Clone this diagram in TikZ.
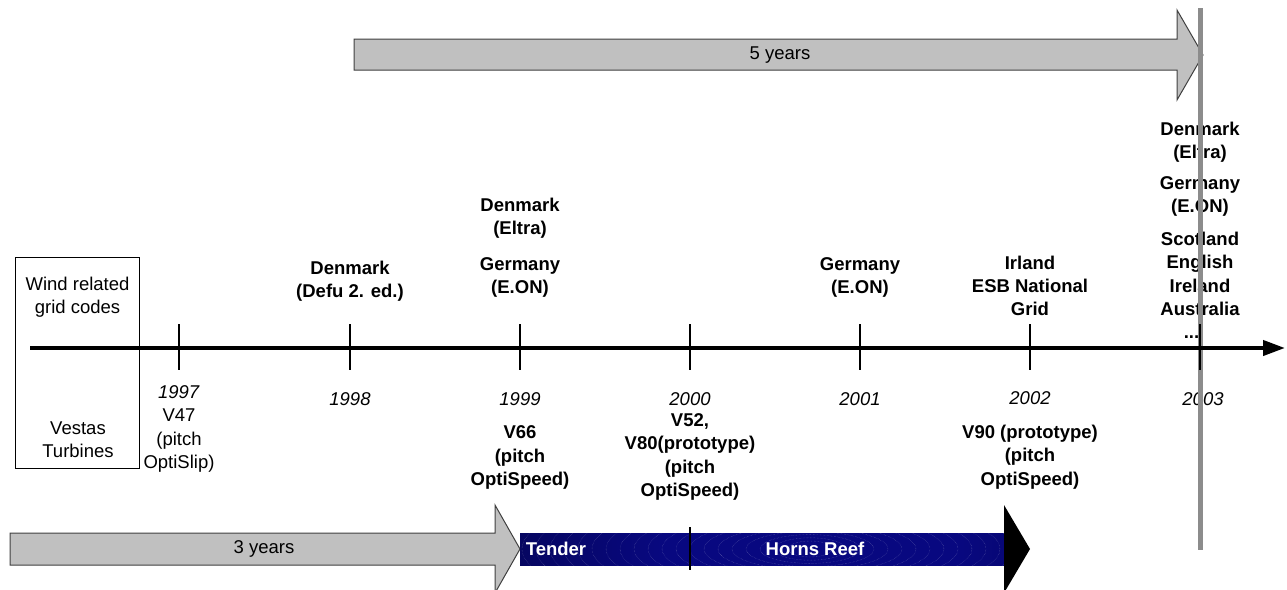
\documentclass[tikz,border=0pt]{standalone}
\usepackage{fontspec}
\setmainfont{Liberation Sans}
\usetikzlibrary{arrows.meta}
\definecolor{arrowgray}{RGB}{192,192,192}
\definecolor{edgegray}{RGB}{64,64,64}
\definecolor{lineGray}{RGB}{140,140,140}
\definecolor{navyc}{RGB}{8,8,128}
\definecolor{navyd}{RGB}{4,4,70}
\pgfdeclarehorizontalshading{hornsshade}{100bp}{color(0bp)=(black); color(12bp)=(navyd); color(40bp)=(navyc); color(70bp)=(navyc); color(100bp)=(navyd)}
\tikzset{
  lbl/.style={inner sep=0pt, align=center, font=\fontsize{18.5}{23.3}\selectfont\bfseries},
  reg/.style={inner sep=0pt, align=center, font=\fontsize{18.5}{23.3}\selectfont},
  yr/.style={inner sep=0pt, align=center, font=\fontsize{18.5}{23.3}\selectfont\itshape},
  tickline/.style={line width=2pt, black},
  grayarrow/.style={fill=arrowgray, draw=edgegray, line width=1pt},
}
\begin{document}
\begin{tikzpicture}[x=1pt,y=-1pt]
\useasboundingbox (0,0) rectangle (1287,589);

% ---- top 5 years arrow
\path[grayarrow] (354,39) -- (1177,39) -- (1177,10) -- (1203,55) -- (1177,100) -- (1177,70) -- (354,70) -- cycle;
\node[reg] (fiveyears) at (780,55) {5 years};

% ---- bottom 3 years arrow
\path[grayarrow] (10,533) -- (495,533) -- (495,505) -- (520,549) -- (495,593) -- (495,565) -- (10,565) -- cycle;
\node[reg] (threeyears) at (264,549) {3 years};

% ---- dark Tender / Horns Reef arrow
\shade[shading=hornsshade] (520,533) rectangle (1004,565);
\begin{scope}
\clip (520,533) rectangle (1004,565);
\foreach \k in {0,...,22}{
  \draw[white, opacity=0.35, line width=0.4pt, densely dotted] (810,549) ellipse ({22+\k*14} and {8+\k*3.2});
}
\end{scope}
\fill[black] (1004,505) -- (1030,549) -- (1004,593) -- cycle;
\node[lbl, text=white] (tender) at (556,549) {Tender};
\node[lbl, text=white] (hornsreef) at (815,549) {Horns Reef};
\coordinate (divtop) at (690,527);
\coordinate (divbot) at (690,570);
\draw[line width=2.5pt] (divtop) -- (divbot);

% ---- legend box
\node[draw=black, line width=1pt, minimum width=124pt, minimum height=211pt, inner sep=0pt] (legend) at (77,362.5) {};
\node[reg] (windgrid) at (77.5,297.5) {Wind related\\grid codes};
\node[reg] (vestas) at (78,439.5) {Vestas\\Turbines};

% ---- labels above axis
\node[lbl] (dk98) at (350,281) {Denmark\\(Defu 2. ed.)};
\node[lbl] (dk99) at (520,218.5) {Denmark\\(Eltra)};
\node[lbl] (de99) at (520,277.5) {Germany\\(E.ON)};
\node[lbl] (de01) at (860,277.5) {Germany\\(E.ON)};
\node[lbl] (ie02) at (1030,286) {Irland\\ESB National\\Grid};
\node[lbl] (dk03) at (1200,142.5) {Denmark\\(Eltra)};
\node[lbl] (de03) at (1200,196.5) {Germany\\(E.ON)};
\node[lbl] (others03) at (1200,285.5) {Scotland\\English\\Ireland\\Australia\\...\hspace*{17pt}};

% ---- year labels and turbines
\node[reg] (y97) at (179,429) {\textit{1997}\\V47\\(pitch\\OptiSlip)};
\node[yr] (y98) at (350,399) {1998};
\node[yr] (y99) at (520,399) {1999};
\node[yr] (y00) at (690,399) {2000};
\node[yr] (y01) at (860,399) {2001};
\node[yr] (y02) at (1030,398) {2002};
\node[yr] (y03) at (1203,399) {2003};
\node[lbl] (v66) at (520,457.5) {V66\\(pitch\\OptiSpeed)};
\node[lbl] (v52) at (690,457) {V52,\\V80(prototype)\\(pitch\\OptiSpeed)};
\node[lbl] (v90) at (1030,457) {V90 (prototype)\\(pitch\\OptiSpeed)};

% ---- gray vertical marker
\coordinate (gtop) at (1200,8);
\coordinate (gbot) at (1200,550);
\draw[lineGray, line width=5pt] (gtop) -- (gbot);

% ---- axis
\coordinate (axstart) at (30,348);
\coordinate (axend) at (1285,348);
\draw[line width=4pt, -{Triangle[length=22pt,width=15pt]}] (axstart) -- (axend);
\foreach \x/\n in {179/t97,350/t98,520/t99,690/t00,860/t01,1030/t02,1200/t03}{
  \coordinate (\n a) at (\x,324);
  \coordinate (\n b) at (\x,370);
  \draw[tickline] (\n a) -- (\n b);
}
\end{tikzpicture}
\end{document}
